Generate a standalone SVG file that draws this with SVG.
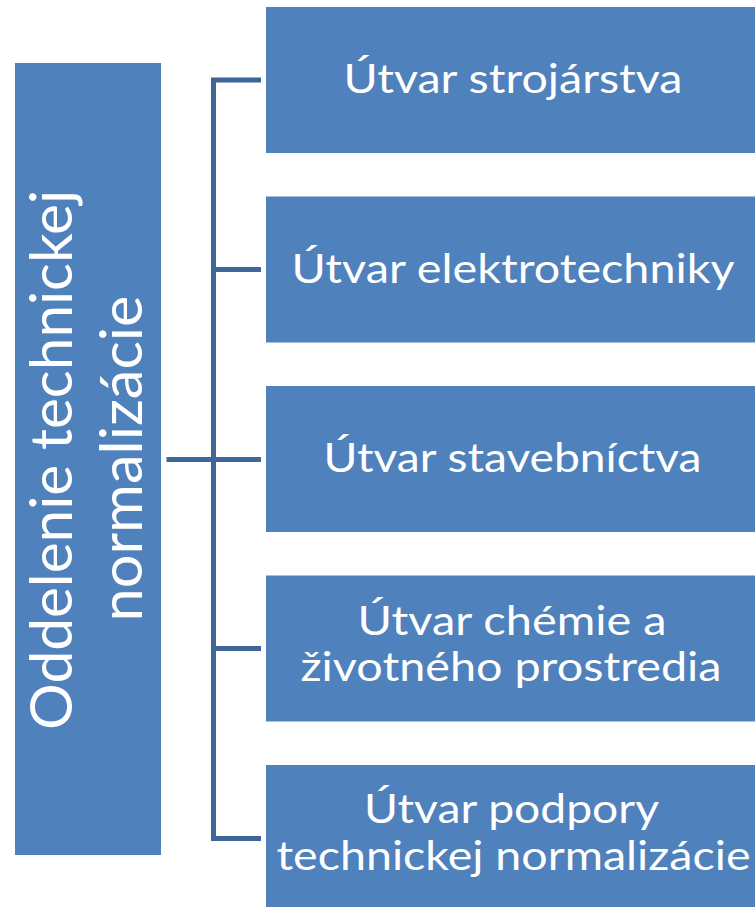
<svg xmlns="http://www.w3.org/2000/svg" width="755" height="907" viewBox="0 0 755 907">
<style>
.box{fill:#4F81BD}
.t{fill:#FFFFFF;font-family:Lato,"Open Sans","Liberation Sans",sans-serif;font-size:40px;text-anchor:middle}
.tl{fill:#FFFFFF;font-family:Lato,"Open Sans","Liberation Sans",sans-serif;font-size:58px;text-anchor:middle}
.c{fill:none;stroke:#3E6697;stroke-width:5}
</style>
<rect width="755" height="907" fill="#FFFFFF"/>
<g id="connectors">
<path class="c" d="M261,80 H213.5 V838.5 H261"/>
<path class="c" d="M213.5,269.5 H261 M213.5,459.5 H261 M213.5,648.5 H261 M166.5,459.5 H213.5"/>
</g>
<g id="root">
<rect class="box" x="15" y="63" width="146" height="792"/>
<text class="tl" transform="translate(72,460) rotate(-90)" textLength="540" lengthAdjust="spacingAndGlyphs">Oddelenie technickej</text>
<text class="tl" transform="translate(142,458.5) rotate(-90)" textLength="326" lengthAdjust="spacingAndGlyphs">normalizácie</text>
</g>
<g id="n1">
<rect class="box" x="266" y="7" width="490" height="146"/>
<text class="t" x="513" y="93.3" textLength="339" lengthAdjust="spacingAndGlyphs">Útvar strojárstva</text>
</g>
<g id="n2">
<rect class="box" x="266" y="196.5" width="490" height="146"/>
<text class="t" x="513" y="282.5" textLength="443" lengthAdjust="spacingAndGlyphs">Útvar elektrotechniky</text>
</g>
<g id="n3">
<rect class="box" x="266" y="386" width="490" height="146"/>
<text class="t" x="512.5" y="472.3" textLength="378" lengthAdjust="spacingAndGlyphs">Útvar stavebníctva</text>
</g>
<g id="n4">
<rect class="box" x="266" y="575.5" width="490" height="146"/>
<text class="t" x="512" y="635" textLength="309" lengthAdjust="spacingAndGlyphs">Útvar chémie a</text>
<text class="t" x="511" y="680.7" textLength="421" lengthAdjust="spacingAndGlyphs">životného prostredia</text>
</g>
<g id="n5">
<rect class="box" x="266" y="765" width="490" height="146"/>
<text class="t" x="511.5" y="823.3" textLength="295" lengthAdjust="spacingAndGlyphs">Útvar podpory</text>
<text class="t" x="513.5" y="870" textLength="474" lengthAdjust="spacingAndGlyphs">technickej normalizácie</text>
</g>
</svg>
